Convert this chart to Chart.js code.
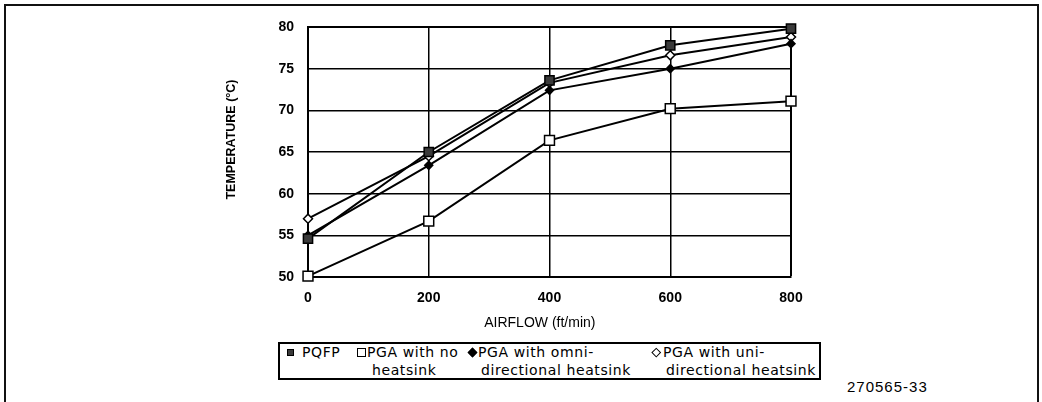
<!DOCTYPE html>
<html><head><meta charset="utf-8">
<script src="https://cdn.jsdelivr.net/npm/chart.js@4"></script>
<style>
html,body{margin:0;padding:0;background:#fff;}
#wrap{position:relative;width:1042px;height:402px;overflow:hidden;background:#fff;}
#frame{position:absolute;left:4px;top:4px;width:1031px;height:420px;border:2px solid #111;}
#chartBox{position:absolute;left:0;top:0;width:1042px;height:340px;}
#legend{position:absolute;left:278px;top:342px;width:539px;height:34px;border:2px solid #000;font-family:"DejaVu Sans";font-size:14px;letter-spacing:0.6px;color:#000;background:#fff;}
.li{position:absolute;white-space:nowrap;line-height:16px;}
.mk{position:absolute;box-sizing:border-box;}
#fig{position:absolute;left:847px;top:378px;font:15px "Liberation Sans";letter-spacing:1px;color:#000;}
</style></head>
<body>
<div id="wrap">
  <div id="frame"></div>
  <div id="chartBox"><canvas id="c" width="1042" height="340"></canvas></div>
  <div id="legend"></div>
  <div id="fig">270565-33</div>
</div>
<script>
// ---- data ----
const airflow = [0, 200, 400, 600, 800];
const pqfp = [54.6, 65.0, 73.6, 77.8, 79.8];
const pgaNoHeatsink = [50.1, 56.7, 66.4, 70.2, 71.1];
const pgaOmniHeatsink = [55.0, 63.4, 72.4, 75.0, 78.0];
const pgaUniHeatsink = [57.0, 64.5, 73.3, 76.6, 78.8];
const seriesNames = ["PQFP", "PGA with no heatsink", "PGA with omni-directional heatsink", "PGA with uni-directional heatsink"];
const legendLines = [["PQFP"], ["PGA with no", "heatsink"], ["PGA with omni-", "directional heatsink"], ["PGA with uni-", "directional heatsink"]];
const xTicks = [0, 200, 400, 600, 800];
const yTicks = [50, 55, 60, 65, 70, 75, 80];
const xTitle = "AIRFLOW (ft/min)";
const yTitle = "TEMPERATURE (°C)";

// ---- styles ----
const markerStyles = [
  {pointStyle: 'rect', radius: 6.5, fill: '#3a3a3a', bw: 1.5, lg: 7},
  {pointStyle: 'rect', radius: 7, fill: '#ffffff', bw: 1.5, lg: 9},
  {pointStyle: 'rectRot', radius: 4, fill: '#000000', bw: 1.5, lg: 7},
  {pointStyle: 'rectRot', radius: 4.5, fill: '#ffffff', bw: 1.5, lg: 6.5}
];
const seriesValues = [pqfp, pgaNoHeatsink, pgaOmniHeatsink, pgaUniHeatsink];

const datasets = seriesValues.map((vals, i) => ({
  label: seriesNames[i],
  data: airflow.map((x, j) => ({x: x, y: vals[j]})),
  borderColor: '#000',
  borderWidth: 2,
  tension: 0,
  clip: false,
  pointStyle: markerStyles[i].pointStyle,
  pointRadius: markerStyles[i].radius,
  pointBackgroundColor: markerStyles[i].fill,
  pointBorderColor: '#000',
  pointBorderWidth: markerStyles[i].bw
}));

const tickFont = {family: 'Liberation Sans', size: 14, weight: 'bold'};

// axis titles drawn at their places in the reference (relative to the chart area)
const axisTitlePlugin = {
  id: 'axisTitles',
  afterDraw(chart) {
    const ctx = chart.ctx, a = chart.chartArea;
    ctx.save();
    ctx.fillStyle = '#000';
    ctx.textAlign = 'center';
    ctx.textBaseline = 'middle';
    ctx.font = '14px "Liberation Sans"';
    ctx.fillText(xTitle, a.left + (a.right - a.left) * 0.48, a.bottom + 46);
    ctx.translate(a.left - 76, a.top + (a.bottom - a.top) * 0.45);
    ctx.rotate(-Math.PI / 2);
    ctx.font = 'bold 12.5px "Liberation Sans"';
    ctx.fillText(yTitle, 0, 0);
    ctx.restore();
  }
};

new Chart(document.getElementById('c'), {
  type: 'line',
  data: {datasets: datasets},
  plugins: [axisTitlePlugin],
  options: {
    responsive: false,
    animation: false,
    devicePixelRatio: 1,
    layout: {padding: {left: 200, right: 251, top: 27, bottom: 0}},
    plugins: {legend: {display: false}, tooltip: {enabled: false}},
    scales: {
      x: {
        type: 'linear', min: 0, max: 800,
        afterBuildTicks: s => { s.ticks = xTicks.map(v => ({value: v})); },
        afterFit: s => { s.height = 63; },
        ticks: {color: '#000', font: tickFont, padding: 13},
        grid: {color: '#000', lineWidth: c => (c.tick && (c.tick.value === 800)) ? 2 : 1.5, drawTicks: false},
        border: {color: '#000', width: 2},
        title: {display: false, text: xTitle}
      },
      y: {
        type: 'linear', min: 50, max: 80,
        afterBuildTicks: s => { s.ticks = yTicks.map(v => ({value: v})); },
        afterFit: s => { s.width = 108; },
        ticks: {color: '#000', font: tickFont, padding: 14},
        grid: {color: '#000', lineWidth: c => (c.tick && (c.tick.value === 80)) ? 2 : 1.5, drawTicks: false},
        border: {color: '#000', width: 2},
        title: {display: false, text: yTitle}
      }
    }
  }
});

// ---- HTML legend built from the datasets ----
const legendLayout = [
  {mx: 10, tx: [22]},
  {mx: 81.5, tx: [87, 92]},
  {mx: 192, tx: [198, 201]},
  {mx: 376, tx: [383, 386]}
];
const lg = document.getElementById('legend');
datasets.forEach((ds, i) => {
  const L = legendLayout[i];
  const st = markerStyles[i];
  const m = document.createElement('div');
  m.className = 'mk';
  m.style.width = st.lg + 'px'; m.style.height = st.lg + 'px';
  m.style.left = (L.mx - st.lg / 2) + 'px'; m.style.top = (8 - st.lg / 2) + 'px';
  if (st.pointStyle === 'rectRot') m.style.transform = 'rotate(45deg)';
  m.style.background = ds.pointBackgroundColor;
  m.style.border = '1.5px solid #000';
  lg.appendChild(m);
  legendLines[i].forEach((t, k) => {
    const s = document.createElement('div');
    s.className = 'li';
    s.textContent = t;
    s.style.left = L.tx[k] + 'px';
    s.style.top = (k === 0 ? 0 : 18) + 'px';
    lg.appendChild(s);
  });
});
</script>
</body></html>
